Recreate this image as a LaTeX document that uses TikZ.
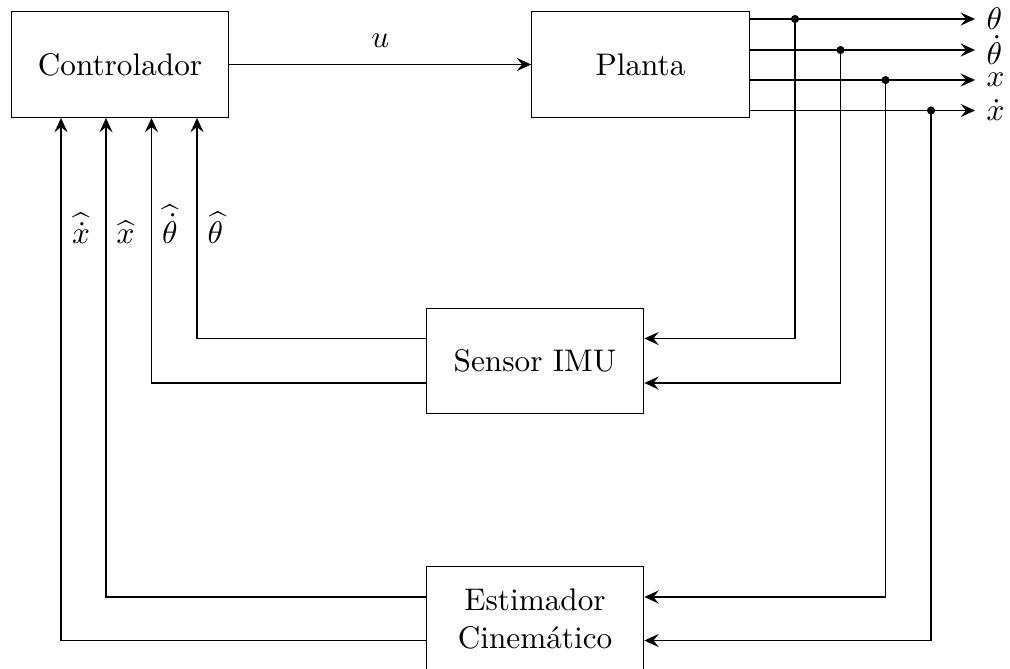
\documentclass[tikz,border=0pt]{standalone}
\usetikzlibrary{arrows.meta}
\begin{document}
\begin{tikzpicture}[x=0.32pt,y=-0.32pt,
  blockbox/.style={draw, minimum width=69.6pt, minimum height=33.8pt, inner sep=2pt, align=center},
  arr/.style={-{Stealth[length=4.6pt,width=4.2pt,inset=1.7pt]}},
  dotnode/.style={circle, fill=black, inner sep=0pt, minimum size=2.6pt},
  outlab/.style={anchor=west, inner sep=3.5pt}]
\useasboundingbox (0,0) rectangle (1010,668);

% blocks
\node[blockbox] (ctrl) at (120,64.5) {Controlador};
\node[blockbox] (planta) at (640.5,64.5) {Planta};
\node[blockbox] (imu) at (535,361) {Sensor IMU};
\node[blockbox] (est) at (535,619) {Estimador\\Cinem\'atico};

% controller to plant
\draw[arr] (ctrl) -- node[above=2pt] {$u$} (planta);

% output labels
\node[outlab] (th)  at (975,19)  {$\theta$};
\node[outlab] (thd) at (975,50)  {$\dot\theta$};
\node[outlab] (xx)  at (975,80)  {$x$};
\node[outlab] (xd)  at (975,110.5) {$\dot x$};

\draw[arr] (planta.east |- th) -- (th);
\draw[arr] (planta.east |- thd) -- (thd);
\draw[arr] (planta.east |- xx) -- (xx);
\draw[arr] (planta.east |- xd) -- (xd);

% branch dots
\node[dotnode] (d1) at (795,19) {};
\node[dotnode] (d2) at (840.5,50) {};
\node[dotnode] (d3) at (885.5,80) {};
\node[dotnode] (d4) at (931,110.5) {};

% input levels
\coordinate (i1) at (0,338.5);
\coordinate (i2) at (0,383);
\coordinate (e1) at (0,597);
\coordinate (e2) at (0,640.5);

\draw[arr] (d1.center) |- (imu.east |- i1);
\draw[arr] (d2.center) |- (imu.east |- i2);
\draw[arr] (d3.center) |- (est.east |- e1);
\draw[arr] (d4.center) |- (est.east |- e2);

% feedback columns
\coordinate (k1) at (61,0);
\coordinate (k2) at (106,0);
\coordinate (k3) at (151.5,0);
\coordinate (k4) at (197,0);

\draw[arr] (imu.west |- i1) -| (ctrl.south -| k4);
\draw[arr] (imu.west |- i2) -| (ctrl.south -| k3);
\draw[arr] (est.west |- e1) -| (ctrl.south -| k2);
\draw[arr] (est.west |- e2) -| (ctrl.south -| k1);

% feedback labels
\node[anchor=base] (l1) at (81,243) {$\widehat{\dot x}$};
\node[anchor=base] (l2) at (125.5,243) {$\widehat{x}$};
\node[anchor=base] (l3) at (170,243) {$\widehat{\dot\theta}$};
\node[anchor=base] (l4) at (215.5,243) {$\widehat{\theta}$};
\end{tikzpicture}
\end{document}
